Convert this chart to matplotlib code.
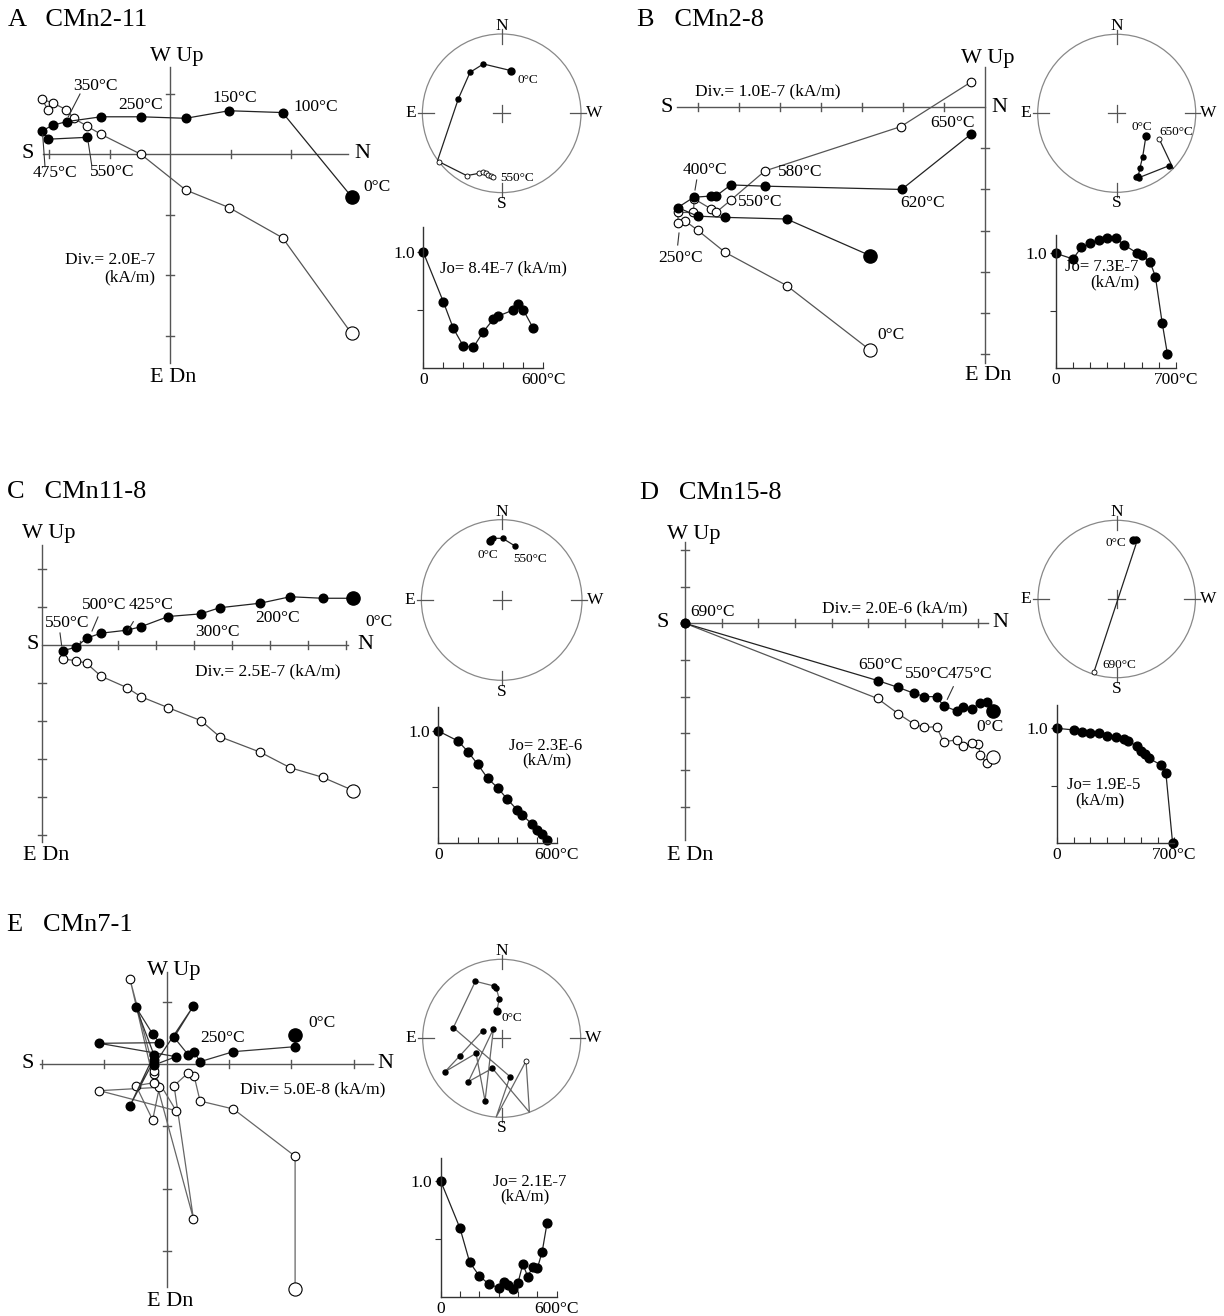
import matplotlib
matplotlib.use("Agg")
import matplotlib.pyplot as plt
from matplotlib.lines import Line2D

plt.rcParams["font.family"] = ["Liberation Serif", "DejaVu Serif"]

W, H = 1224, 1316

# ---------------- data (division units / normalised) ----------------
# A  CMn2-11
a_hn = [3.0, 1.86, 0.975, 0.26, -0.48, -1.14, -1.71, -1.94, -2.12, -2.01, -1.38]
a_hw = [-0.70, 0.69, 0.72, 0.595, 0.62, 0.62, 0.54, 0.48, 0.385, 0.25, 0.28]
a_vn = [3.0, 1.86, 0.975, 0.26, -0.48, -1.14, -1.38, -1.59, -1.72, -1.94, -2.12, -2.01]
a_vu = [-2.96, -1.38, -0.88, -0.59, 0.0, 0.33, 0.47, 0.595, 0.74, 0.85, 0.91, 0.73]
a_sx = [0.118, -0.231, -0.399, -0.546, -0.807, -0.786, -0.441, -0.282, -0.231, -0.197, -0.168, -0.139, -0.105]
a_sy = [0.538, 0.622, 0.517, 0.185, -0.590, -0.613, -0.786, -0.756, -0.744, -0.756, -0.773, -0.790, -0.798]
a_sk = "ffffeoooooooo"
a_t = [0, 100, 150, 200, 250, 300, 350, 375, 450, 475, 500, 550]
a_j = [1.0, 0.572, 0.341, 0.188, 0.176, 0.312, 0.419, 0.448, 0.5, 0.549, 0.5, 0.341]

# B  CMn2-8
b_hn = [-2.80, -4.83, -6.33, -7.00, -7.48, -7.09, -6.66, -6.55, -6.19, -5.36, -2.03, -0.35]
b_hw = [-3.61, -2.72, -2.68, -2.65, -2.44, -2.19, -2.16, -2.16, -1.89, -1.92, -2.00, -0.66]
b_vn = [-2.80, -4.83, -6.33, -7.00, -7.31, -7.47, -7.48, -7.10, -7.08, -6.66, -6.55, -6.19, -5.36, -2.05, -0.35]
b_vu = [-5.91, -4.34, -3.53, -2.99, -2.76, -2.81, -2.56, -2.56, -2.23, -2.48, -2.56, -2.26, -1.55, -0.47, 0.61]
b_sx = [0.371, 0.329, 0.295, 0.274, 0.245, 0.283, 0.667, 0.715, 0.540]
b_sy = [-0.283, -0.549, -0.688, -0.789, -0.802, -0.814, -0.662, -0.699, -0.329]
b_sk = "fffffffeo"
b_t = [0, 100, 150, 200, 250, 300, 350, 400, 475, 500, 550, 580, 620, 650]
b_j = [1.0, 0.951, 1.052, 1.087, 1.116, 1.13, 1.13, 1.072, 1.0, 0.986, 0.922, 0.797, 0.391, 0.125]

# C  CMn11-8
c_hn = [8.20, 7.39, 6.54, 5.75, 4.68, 4.19, 3.33, 2.61, 2.24, 1.56, 1.18, 0.90, 0.55]
c_hw = [1.23, 1.23, 1.27, 1.10, 0.98, 0.82, 0.75, 0.48, 0.39, 0.31, 0.18, -0.06, -0.15]
c_vn = c_hn
c_vu = [-3.83, -3.48, -3.23, -2.82, -2.41, -1.99, -1.65, -1.36, -1.12, -0.82, -0.48, -0.41, -0.37]
c_sx = [-0.145, -0.129, -0.104, 0.012, 0.166]
c_sy = [0.739, 0.756, 0.768, 0.768, 0.672]
c_sk = "fffff"
c_t = [0, 100, 150, 200, 250, 300, 350, 400, 425, 475, 500, 525, 550]
c_j = [1.0, 0.911, 0.816, 0.703, 0.579, 0.496, 0.392, 0.297, 0.252, 0.172, 0.119, 0.083, 0.03]

# D  CMn15-8
d_hn = [8.41, 8.23, 8.05, 7.82, 7.59, 7.41, 7.05, 6.86, 6.53, 6.25, 5.82, 5.25, 0.0]
d_hw = [-2.38, -2.14, -2.16, -2.35, -2.29, -2.39, -2.25, -2.00, -2.00, -1.91, -1.75, -1.56, 0.0]
d_vn = [8.41, 8.23, 8.05, 8.00, 7.82, 7.59, 7.41, 7.05, 6.86, 6.53, 6.25, 5.82, 5.25, 0.0]
d_vu = [-3.64, -3.82, -3.59, -3.29, -3.27, -3.35, -3.18, -3.23, -2.82, -2.84, -2.75, -2.47, -2.05, 0.0]
d_sx = [0.212, 0.246, 0.263, -0.288]
d_sy = [0.75, 0.763, 0.75, -0.924]
d_sk = "fffo"
d_t = [0, 100, 150, 200, 250, 300, 350, 400, 425, 475, 500, 525, 550, 620, 650, 690]
d_j = [1.0, 0.986, 0.965, 0.957, 0.957, 0.936, 0.928, 0.904, 0.89, 0.846, 0.803, 0.774, 0.739, 0.681, 0.609, 0.0]

# E  CMn7-1
e_n = [2.06, 2.06, 1.07, 0.535, 0.439, 0.348, 0.118, 0.428, -0.203, 0.150, -1.08, -0.118, -0.225, -0.492, -0.203, -0.588, -0.203]
e_w = [0.465, 0.278, 0.198, 0.037, 0.198, 0.144, 0.428, 0.930, -0.016, 0.118, 0.332, 0.342, 0.481, 0.909, 0.144, -0.668, 0.064]
e_u = [-3.61, -1.48, -0.722, -0.594, -0.187, -0.139, -0.348, -2.48, -0.160, -0.749, -0.428, -0.374, -0.898, -0.348, -0.300, 1.358, -0.11]
e_sx = [-0.063, -0.030, -0.072, -0.097, -0.333, -0.612, 0.105, -0.070, 0.308, 0.351, -0.118, -0.422, -0.105, -0.211, -0.325, -0.717, -0.527, -0.240]
e_sy = [0.346, 0.498, 0.641, 0.662, 0.722, 0.135, -0.485, -0.997, -0.287, -0.936, -0.380, -0.549, 0.118, -0.793, -0.190, -0.422, -0.219, 0.097]
e_sk = "fffffffeoeffffffff"
e_t = [0, 100, 150, 200, 250, 300, 325, 350, 375, 400, 425, 450, 475, 500, 525, 550]
e_j = [1.0, 0.593, 0.301, 0.183, 0.112, 0.083, 0.129, 0.106, 0.069, 0.126, 0.287, 0.178, 0.258, 0.249, 0.393, 0.636]

AXC = "#555555"
fig = plt.figure(figsize=(W / 100, H / 100), dpi=100)


def px_axes(x0, y0, x1, y1):
    ax = fig.add_axes([x0 / W, 1 - y1 / H, (x1 - x0) / W, (y1 - y0) / H])
    ax.set_axis_off()
    return ax


def lab(x, y, s, size=12.5, ha="left", va="center"):
    fig.text(x / W, 1 - y / H, s, fontsize=size, ha=ha, va=va)


def lead(x0, y0, x1, y1):
    fig.add_artist(Line2D([x0 / W, x1 / W], [1 - y0 / H, 1 - y1 / H], color="#333333", lw=0.8))


def zijder(ox, oy, d, box, hn, hw, vn, vu, xr, yr, xt, yt, lc="#222222", vc="#555555"):
    ax = px_axes(*box)
    x0, y0, x1, y1 = box
    ax.set_xlim((x0 - ox) / d, (x1 - ox) / d)
    ax.set_ylim((oy - y1) / d, (oy - y0) / d)
    h = 4.0 / d
    ax.plot(xr, [0, 0], color=AXC, lw=1.0, zorder=1)
    ax.plot([0, 0], yr, color=AXC, lw=1.0, zorder=1)
    for t in xt:
        ax.plot([t, t], [-h, h], color=AXC, lw=1.0, zorder=1)
    for t in yt:
        ax.plot([-h, h], [t, t], color=AXC, lw=1.0, zorder=1)
    ax.plot(vn, vu, color=vc, lw=0.9, zorder=2)
    ax.plot(vn[1:], vu[1:], "o", mfc="white", mec="black", mew=0.8, ms=6.2, zorder=3, clip_on=False)
    ax.plot(vn[:1], vu[:1], "o", mfc="white", mec="black", mew=0.8, ms=9.5, zorder=3, clip_on=False)
    ax.plot(hn, hw, color=lc, lw=0.9, zorder=4)
    ax.plot(hn[1:], hw[1:], "o", color="black", ms=6.2, zorder=5, clip_on=False)
    ax.plot(hn[:1], hw[:1], "o", color="black", ms=9.5, zorder=5, clip_on=False)
    return ax


def stereo(cx, cy, r, sx, sy, sk, lc="#222222"):
    ax = px_axes(cx - 1.3 * r, cy - 1.3 * r, cx + 1.3 * r, cy + 1.3 * r)
    ax.set_xlim(-1.3, 1.3)
    ax.set_ylim(-1.3, 1.3)
    ax.add_patch(plt.Circle((0, 0), 1, fill=False, ec="#888888", lw=0.9))
    for b in [1, -1]:
        ax.plot([0, 0], [0.88 * b, 1.06 * b], color="#555555", lw=0.9)
        ax.plot([0.86 * b, 1.06 * b], [0, 0], color="#555555", lw=0.9)
    ax.plot([-0.11, 0.11], [0, 0], color="#555555", lw=0.9)
    ax.plot([0, 0], [-0.11, 0.11], color="#555555", lw=0.9)
    kw = dict(fontsize=12.5, ha="center", va="center")
    ax.text(0, 1.1, "N", **kw)
    ax.text(0, -1.14, "S", **kw)
    ax.text(-1.15, 0, "E", **kw)
    ax.text(1.16, 0, "W", **kw)
    ax.plot(sx, sy, color=lc, lw=0.9)
    fx = [x for x, k in zip(sx, sk) if k == "f"]
    fy = [y for y, k in zip(sy, sk) if k == "f"]
    ox = [x for x, k in zip(sx, sk) if k == "o"]
    oy = [y for y, k in zip(sy, sk) if k == "o"]
    ax.plot(fx, fy, "o", color="black", ms=3.6)
    ax.plot(fx[:1], fy[:1], "o", color="black", ms=5.0)
    ax.plot(ox, oy, "o", mfc="white", mec="black", mew=0.6, ms=3.6)
    return ax


def decay(ox, oy, one_y, top_y, xend, tmax, t, j):
    ax = fig.add_axes([ox / W, 1 - oy / H, (xend - ox) / W, (oy - top_y) / H])
    ax.set_xlim(0, tmax)
    ax.set_ylim(0, (oy - top_y) / (oy - one_y))
    for s in ["top", "right"]:
        ax.spines[s].set_visible(False)
    for s in ["left", "bottom"]:
        ax.spines[s].set_color("#333333")
        ax.spines[s].set_linewidth(1.0)
    ax.set_xticks(list(range(0, tmax + 1, 100)))
    ax.set_xticklabels(["0"] + [""] * (tmax // 100 - 1) + ["%d°C" % tmax], fontsize=12.5)
    ax.set_yticks([0.5, 1.0])
    ax.set_yticklabels(["", "1.0"], fontsize=12.5)
    ax.tick_params(axis="x", direction="in", length=4, pad=3, color="#333333")
    ax.tick_params(axis="y", direction="out", length=4, pad=2, color="#333333")
    ax.patch.set_alpha(0)
    ax.plot(t, j, color="#222222", lw=0.9, clip_on=False)
    ax.plot(t, j, "o", color="black", ms=6.3, clip_on=False)
    return ax


# ---------------- panel A ----------------
lab(8, 20, "A   CMn2-11", 19)
zijder(170, 154.3, 60.5, (20, 50, 400, 390), a_hn, a_hw, a_vn, a_vu,
       [-2.1, 2.94], [1.44, -3.45], [-2, -1, 1, 2], [1, -1, -2, -3])
lab(177, 57, "W Up", 16, ha="center")
lab(173, 377, "E Dn", 16, ha="center")
lab(28, 154, "S", 16, ha="center")
lab(362, 154, "N", 16, ha="center")
lab(73, 86, "350°C")
lab(118, 105, "250°C")
lab(212, 98, "150°C")
lab(293, 107, "100°C")
lab(363, 187, "0°C")
lab(33, 173, "475°C")
lab(90, 172, "550°C")
lab(155, 260, "Div.= 2.0E-7", ha="right")
lab(155, 277, "(kA/m)", ha="right")
lead(80, 94, 68.3, 116.7)
lead(42.7, 135, 45, 166.7)
lead(88.3, 142.7, 91.7, 165)
stereo(501.7, 113.3, 79.3, a_sx, a_sy, a_sk)
lab(518, 80, "0°C", 9.5)
lab(500, 178, "550°C", 9.5)
decay(423.3, 367.7, 252.3, 226.7, 543.3, 600, a_t, a_j)
lab(440, 268, "Jo= 8.4E-7 (kA/m)", 12)

# ---------------- panel B ----------------
lab(637, 20, "B   CMn2-8", 19)
zijder(985, 107.3, 41.07, (650, 40, 1015, 390), b_hn, b_hw, b_vn, b_vu,
       [-7.5, 0], [0.99, -6.23], [-1, -2, -3, -4, -5, -6, -7], [-1, -2, -3, -4, -5, -6])
lab(988, 58, "W Up", 16, ha="center")
lab(988, 376, "E Dn", 16, ha="center")
lab(667, 107, "S", 16, ha="center")
lab(999, 107, "N", 16, ha="center")
lab(695, 91, "Div.= 1.0E-7 (kA/m)")
lab(930, 123, "650°C")
lab(778, 172, "580°C")
lab(683, 170, "400°C")
lab(738, 202, "550°C")
lab(900, 203, "620°C")
lab(658, 258, "250°C")
lab(877, 335, "0°C")
lead(696.7, 180, 695, 190)
lead(679, 233, 677.7, 245)
stereo(1116.7, 113.3, 79, b_sx, b_sy, b_sk)
lab(1132, 127, "0°C", 9.5)
lab(1159, 132, "650°C", 9.5)
decay(1055.7, 368.3, 253.3, 235, 1176, 700, b_t, b_j)
lab(1065, 267, "Jo= 7.3E-7", 12)
lab(1090, 282, "(kA/m)", 12)

# ---------------- panel C ----------------
lab(7, 492, "C   CMn11-8", 19)
zijder(41.7, 645, 38.0, (15, 520, 400, 860), c_hn, c_hw, c_vn, c_vu,
       [0, 8.07], [2.63, -5.18], [1, 2, 3, 4, 5, 6, 7, 8], [2, 1, -1, -2, -3, -4, -5])
lab(49, 533, "W Up", 16, ha="center")
lab(46, 855, "E Dn", 16, ha="center")
lab(33, 645, "S", 16, ha="center")
lab(365, 645, "N", 16, ha="center")
lab(195, 671, "Div.= 2.5E-7 (kA/m)")
lab(365, 622, "0°C")
lab(255, 618, "200°C")
lab(195, 632, "300°C")
lab(82, 605, "500°C")
lab(129, 605, "425°C")
lab(45, 623, "550°C")
lead(133.3, 621.7, 128.3, 630)
lead(60, 633, 61.7, 646)
lead(98, 617, 92, 631)
stereo(501.7, 600, 80.3, c_sx, c_sy, c_sk)
lab(477, 555, "0°C", 9.5)
lab(513, 559, "550°C", 9.5)
decay(438.3, 843.3, 731, 706.7, 556.7, 600, c_t, c_j)
lab(509, 746, "Jo= 2.3E-6", 12)
lab(522, 760, "(kA/m)", 12)

# ---------------- panel D ----------------
lab(640, 493, "D   CMn15-8", 19)
zijder(685, 623.3, 36.67, (650, 520, 1015, 860), d_hn, d_hw, d_vn, d_vu,
       [0, 8.27], [2.23, -5.91], [1, 2, 3, 4, 5, 6, 7, 8], [2, 1, -1, -2, -3, -4, -5])
lab(694, 535, "W Up", 16, ha="center")
lab(690, 856, "E Dn", 16, ha="center")
lab(663, 623, "S", 16, ha="center")
lab(1000, 623, "N", 16, ha="center")
lab(690, 612, "690°C")
lab(822, 608, "Div.= 2.0E-6 (kA/m)")
lab(858, 665, "650°C")
lab(905, 674, "550°C")
lab(948, 674, "475°C")
lab(976, 727, "0°C")
lead(953.3, 686.7, 947.3, 699.3)
stereo(1116.7, 599, 78.7, d_sx, d_sy, d_sk)
lab(1105, 543, "0°C", 9.5)
lab(1102, 665, "690°C", 9.5)
decay(1056.7, 843.3, 728.3, 705, 1174.3, 700, d_t, d_j)
lab(1067, 785, "Jo= 1.9E-5", 12)
lab(1075, 800, "(kA/m)", 12)

# ---------------- panel E ----------------
lab(7, 925, "E   CMn7-1", 19)
zijder(166.7, 1064, 62.33, (15, 950, 400, 1300), e_n, e_w, e_n, e_u,
       [-2.03, 3.31], [1.48, -3.57], [-2, -1, 1, 2, 3], [1, -1, -2, -3],
       lc="#333333", vc="#666666")
lab(174, 970, "W Up", 16, ha="center")
lab(170, 1302, "E Dn", 16, ha="center")
lab(28, 1064, "S", 16, ha="center")
lab(385, 1064, "N", 16, ha="center")
lab(308, 1023, "0°C")
lab(200, 1038, "250°C")
lab(240, 1089, "Div.= 5.0E-8 (kA/m)")
stereo(501.7, 1038.3, 79, e_sx, e_sy, e_sk, lc="#666666")
lab(502, 1018, "0°C", 9.5)
decay(440.7, 1297.3, 1181, 1158, 556.7, 600, e_t, e_j)
lab(493, 1182, "Jo= 2.1E-7", 12)
lab(500, 1196, "(kA/m)", 12)

fig.savefig("out.png", dpi=100)
